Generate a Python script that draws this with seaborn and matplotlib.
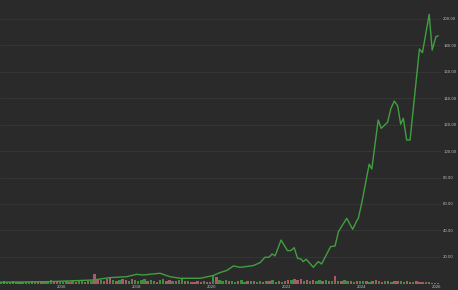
import numpy as np
import pandas as pd
import matplotlib
matplotlib.use("Agg")
import matplotlib.pyplot as plt
import seaborn as sns

# ---- price line (decimal year, price) ----
price_t = [2014.36, 2015.69, 2016.83, 2017.29, 2017.73, 2018.00, 2018.17, 2018.62, 2018.89,
           2019.16, 2019.69, 2020.04, 2020.22, 2020.40, 2020.58, 2020.76, 2021.10, 2021.29,
           2021.42, 2021.53, 2021.61, 2021.69, 2021.85, 2022.02, 2022.11, 2022.20, 2022.29,
           2022.38, 2022.44, 2022.52, 2022.71, 2022.84, 2022.93, 2023.17, 2023.29, 2023.38,
           2023.60, 2023.76, 2023.87, 2023.91, 2024.00, 2024.20, 2024.27, 2024.44, 2024.52,
           2024.69, 2024.78, 2024.87, 2024.96, 2025.04, 2025.11, 2025.20, 2025.29, 2025.54,
           2025.62, 2025.80, 2025.88, 2025.98, 2026.04]
price_v = [0.9, 1.4, 2.6, 4.4, 5.1, 6.9, 6.4, 7.7, 5.1,
           3.9, 3.9, 6.0, 8.2, 9.8, 13.2, 12.2, 13.4, 15.7,
           19.8, 19.8, 22.3, 20.8, 32.8, 24.8, 24.8, 27.0, 19.0,
           18.5, 16.5, 18.3, 12.2, 16.5, 14.7, 27.8, 28.3, 39.1,
           49.2, 40.9, 47.4, 49.2, 60.5, 90.0, 86.4, 123.4, 117.1,
           121.7, 132.2, 137.7, 134.0, 120.2, 124.7, 108.3, 108.3, 177.0,
           174.2, 203.2, 176.2, 186.3, 187.0]

# ---- monthly volume, May 2014 .. Jan 2026 ----
vol_start = "2014-05"
volume = ([2, 3, 2, 2, 3, 2, 2, 2] +
          [2, 2, 3, 2, 2, 3, 2, 2, 4, 2, 3, 2] +
          [2, 3, 2, 3, 2, 3, 3, 2, 3, 3, 10, 4] +
          [4, 3, 5, 6, 4, 3, 4, 5, 4, 3, 5, 4] +
          [3, 4, 5, 3, 4, 3, 2, 4, 5, 3, 4, 3] +
          [3, 4, 5, 3, 3, 2, 2, 3, 2, 3, 2, 2] +
          [8, 7, 4, 3, 4, 3, 3, 2, 3, 4, 2, 3] +
          [3, 3, 2, 3, 2, 3, 3, 4, 2, 3, 2, 3] +
          [4, 4, 5, 4, 5, 3, 4, 3, 4, 3, 4, 3] +
          [4, 3, 3, 8, 3, 3, 4, 3, 3, 2, 3, 3] +
          [3, 3, 2, 3, 4, 3, 2, 3, 3, 2, 3, 3] +
          [3, 2, 3, 2, 2, 3, 2, 2, 2, 2, 1, 1] +
          [1])
vol_dir = ("grgrrgrg" + "rgrgrrgggrrg" + "ggrgrggrrgrr" + "grrrgrgrrgrg" +
           "gggrggrggrrg" + "rggrgrrrrgrr" + "grgggrggrggr" + "grggrgrggrgr" +
           "rgrrrgrgrggr" + "grgrgrggrgrg" + "grgrrgrgrgrr" + "ggrrgrrrgrrr" + "r")

xticks = [2016, 2018, 2020, 2022, 2024, 2026]
yticks = [20, 40, 60, 80, 100, 120, 140, 160, 180, 200]

BG = "#2a2a2a"
GRID = "#383838"
LINE = "#40a040"
UP = "#3d8f3d"
DOWN = "#a65c66"
TXT = "#c0c0c0"

sns.set_theme(style="dark")
plt.rcParams["font.family"] = ["DejaVu Sans"]

fig = plt.figure(figsize=(4.58, 2.90), dpi=100, facecolor=BG)
ax = fig.add_axes([0, 6 / 290, 441 / 458, 284 / 290])
ax2 = ax.twinx()

# volume bars
months = pd.period_range(vol_start, periods=len(volume), freq="M")
vol_x = np.array([p.year + (p.month - 0.5) / 12 for p in months])
vol_c = [UP if d == "g" else DOWN for d in vol_dir]
ax2.bar(vol_x, volume, width=0.065, color=vol_c, linewidth=0)
ax2.set_ylim(0, 284)
ax2.set_yticks([])
ax2.set_facecolor(BG)
for s in ax2.spines.values():
    s.set_visible(False)

ax.set_zorder(ax2.zorder + 1)
ax.patch.set_visible(False)

df = pd.DataFrame({"t": price_t, "price": price_v})
sns.lineplot(data=df, x="t", y="price", ax=ax, color=LINE, linewidth=1.0)

ax.set_xlim(2014.355, 2014.355 + 441 / 37.5)
ax.set_ylim(-0.4, 214)
ax.set_xticks(xticks)
ax.set_xticklabels([str(v) for v in xticks])
ax.set_yticks(yticks)
ax.set_yticklabels([f"{v:.2f}" for v in yticks])
ax.yaxis.tick_right()
ax.tick_params(axis="both", length=0, labelsize=2.7, labelcolor=TXT)
ax.tick_params(axis="y", pad=1.5)
ax.tick_params(axis="x", pad=0.6)
ax.grid(axis="y", color=GRID, linewidth=0.6)
ax.grid(axis="x", visible=False)
ax.set_xlabel("")
ax.set_ylabel("")
for s in ax.spines.values():
    s.set_visible(False)

fig.savefig("out.png", dpi=100, facecolor=BG)
